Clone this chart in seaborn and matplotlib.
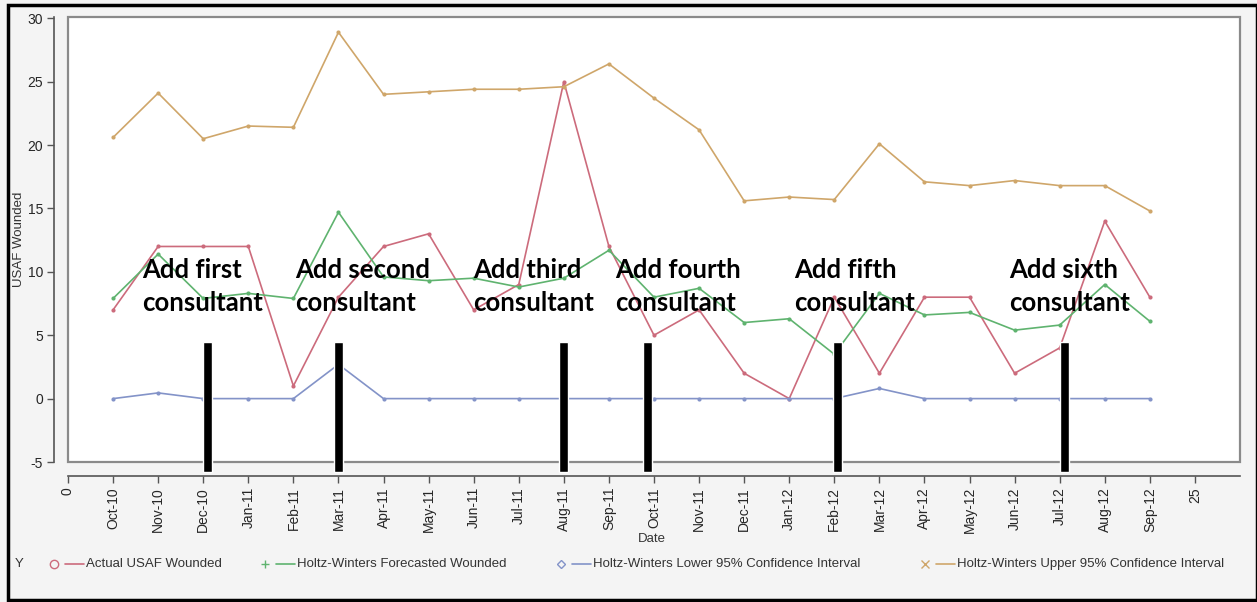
import numpy as np
import pandas as pd
import seaborn as sns
import matplotlib
matplotlib.use("Agg")
from matplotlib import pyplot as plt
from matplotlib.patches import Rectangle
from matplotlib.lines import Line2D

months = ["Oct-10", "Nov-10", "Dec-10", "Jan-11", "Feb-11", "Mar-11", "Apr-11", "May-11",
          "Jun-11", "Jul-11", "Aug-11", "Sep-11", "Oct-11", "Nov-11", "Dec-11", "Jan-12",
          "Feb-12", "Mar-12", "Apr-12", "May-12", "Jun-12", "Jul-12", "Aug-12", "Sep-12"]

actual = [7, 12, 12, 12, 1, 8, 12, 13, 7, 9, 25, 12,
          5, 7, 2, 0, 8, 2, 8, 8, 2, 4, 14, 8]
forecast = [7.9, 11.4, 7.9, 8.3, 7.9, 14.7, 9.6, 9.3, 9.5, 8.8, 9.5, 11.7,
            8.0, 8.7, 6.0, 6.3, 3.5, 8.3, 6.6, 6.8, 5.4, 5.8, 9.0, 6.1]
lower95 = [0, 0.45, 0, 0, 0, 2.7, 0, 0, 0, 0, 0, 0,
           0, 0, 0, 0, 0, 0.8, 0, 0, 0, 0, 0, 0]
upper95 = [20.6, 24.1, 20.5, 21.5, 21.4, 28.9, 24.0, 24.2, 24.4, 24.4, 24.6, 26.4,
           23.7, 21.2, 15.6, 15.9, 15.7, 20.1, 17.1, 16.8, 17.2, 16.8, 16.8, 14.8]

series_names = ["Actual USAF Wounded", "Holtz-Winters Forecasted Wounded",
                "Holtz-Winters Lower 95% Confidence Interval",
                "Holtz-Winters Upper 95% Confidence Interval"]

# where each consultant was added (x in month index units) and the label text
consultant_x = [3.1, 6.0, 11.0, 12.86, 17.07, 22.1]
consultant_top = 4.5
consultant_text = ["Add first", "Add second", "Add third", "Add fourth", "Add fifth", "Add sixth"]
text_x = [1.64, 5.03, 8.98, 12.13, 16.1, 20.87]

sns.set_style("white")
plt.rcParams['font.family'] = ['Liberation Sans', 'DejaVu Sans']

colors = ["#cc6b7c", "#5fb36f", "#8393c8", "#cfa66a"]
legend_markers = ["o", "+", "D", "x"]

fig = plt.figure(figsize=(12.57, 6.02), dpi=100)
fig.patch.set_facecolor("#f4f4f4")
ax = fig.add_axes([68 / 1257, 1 - 462 / 602, 1172 / 1257, 445 / 602])
ax.set_facecolor("white")

xs = np.arange(1, len(months) + 1)
df = pd.DataFrame({"x": xs, "actual": actual, "forecast": forecast,
                   "lower": lower95, "upper": upper95})

for col, c in zip(["actual", "forecast", "lower", "upper"], colors):
    sns.lineplot(data=df, x="x", y=col, ax=ax, color=c, lw=1.2, marker="o",
                 markersize=3, markeredgewidth=0, legend=False)

# consultant bars
ax.bar(consultant_x, [consultant_top + 5.75] * len(consultant_x), bottom=-5.75,
       width=0.2, color="black", clip_on=False, zorder=5)

bold = dict(fontsize=18.5, fontweight="bold", family=["Lato", "DejaVu Sans"],
            va="baseline", ha="left", color="black", zorder=6)
for tx, lab in zip(text_x, consultant_text):
    ax.text(tx, 9.55, lab, **bold)
    ax.text(tx, 6.9, "consultant", **bold)

ax.set_xlim(0, 26)
ax.set_ylim(-5, 30.1)
ax.set_xticks(list(range(0, 26)))
ax.set_xticklabels(["0"] + months + ["25"], fontsize=8.5, color="#333333")
ax.set_yticks(range(-5, 31, 5))
ax.set_yticklabels([str(v) for v in range(-5, 31, 5)], fontsize=8.5, color="#333333")
ax.tick_params(axis="both", direction="out", length=5, width=1, color="#555555", pad=3,
               bottom=True, left=True)
ax.tick_params(axis="x", labelrotation=90)

for s in ["top", "right"]:
    ax.spines[s].set_visible(False)
for s in ["left", "bottom"]:
    ax.spines[s].set_position(("outward", 10))
    ax.spines[s].set_color("#555555")
    ax.spines[s].set_linewidth(1.2)
ax.spines["bottom"].set_bounds(0, 26)

ax.add_patch(Rectangle((0, 0), 1, 1, transform=ax.transAxes, fill=False,
                       edgecolor="#8a8a8a", lw=1.6, clip_on=False, zorder=4))

ax.set_xlabel("Date", fontsize=9.5, color="#333333")
ax.set_ylabel("USAF Wounded", fontsize=9.5, color="#333333")
ax.xaxis.set_label_coords(0.498, -0.16)
ax.yaxis.set_label_coords(-0.037, 0.5)

# legend along the bottom
fig.text(15 / 1257, 1 - 564 / 602, "Y", fontsize=9.5, color="#333333", va="center")
leg_x = [54, 265, 561, 925]
ly = 1 - 564 / 602
for px, name, c, m in zip(leg_x, series_names, colors, legend_markers):
    fig.add_artist(Line2D([px / 1257], [ly], marker=m, color=c, markerfacecolor="none",
                          markersize=6 if m != "D" else 4.5, lw=0, transform=fig.transFigure))
    fig.add_artist(Line2D([(px + 11) / 1257, (px + 30) / 1257], [ly, ly], color=c, lw=1.2,
                          transform=fig.transFigure))
    fig.text((px + 32) / 1257, ly, name, fontsize=9.5, color="#333333", va="center")

# outer border
fig.add_artist(Rectangle((8 / 1257, 2 / 602), 1 - 8 / 1257, 1 - 7 / 602, transform=fig.transFigure,
                         fill=False, edgecolor="black", lw=2.5))

fig.savefig("out.png", dpi=100, facecolor=fig.get_facecolor())
